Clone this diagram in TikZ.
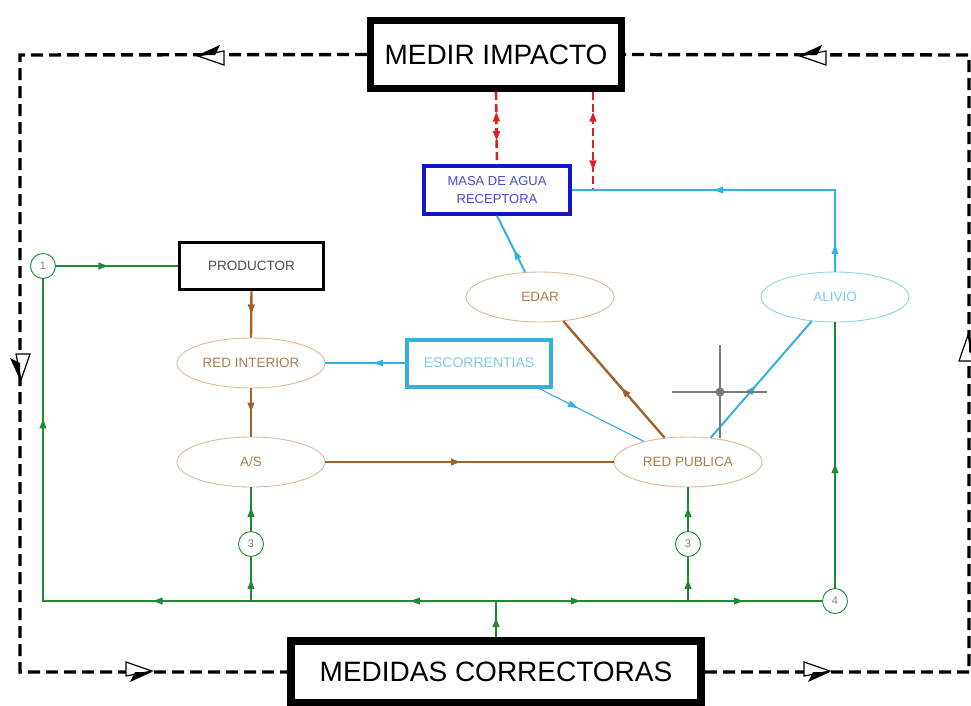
\documentclass[tikz,border=0pt]{standalone}
\usepackage{fontspec}
\setmainfont{Liberation Sans}
\usetikzlibrary{shapes.geometric,arrows.meta,decorations.markings}
\definecolor{grn}{HTML}{1E8A36}
\definecolor{brnline}{HTML}{A0622D}
\definecolor{brntext}{HTML}{B07A4E}
\definecolor{tanline}{HTML}{E0B896}
\definecolor{cyanline}{HTML}{33B2E2}
\definecolor{cyantext}{HTML}{7FCDEB}
\definecolor{cyanell}{HTML}{8FD3EA}
\definecolor{blubox}{HTML}{1515C8}
\definecolor{blutext}{HTML}{4848D0}
\definecolor{redline}{HTML}{E02020}
\definecolor{crossgray}{HTML}{7A7A7A}
\begin{document}
\begin{tikzpicture}[x=1pt,y=-1pt,
  bigbox/.style={draw, line width=7pt, inner sep=0pt, font=\fontsize{28}{30}\selectfont},
  smallbox/.style={draw, line width=3.5pt, inner sep=0pt, minimum width=144pt, minimum height=47pt, font=\fontsize{13.5}{16}\selectfont},
  elli/.style={ellipse, draw=tanline, line width=0.9pt, inner sep=0pt, minimum width=148pt, minimum height=50pt, text=brntext, font=\fontsize{13.5}{16}\selectfont},
  num/.style={circle, draw=grn, line width=0.9pt, fill=white, minimum size=25pt, inner sep=0pt, text=gray, font=\fontsize{11}{11}\selectfont},
  gl/.style={grn, line width=2.4pt},
  bl/.style={brnline, line width=2.4pt},
  cl/.style={cyanline, line width=2pt},
  cthin/.style={cyanline, line width=1.1pt},
  rl/.style={redline, line width=2.6pt, dash pattern=on 8pt off 4pt},
  dloop/.style={black, line width=3.4pt, dash pattern=on 12pt off 6pt},
  arrat/.style={postaction={decorate,decoration={markings,mark=at position #1 with {\arrow{Triangle[length=10pt,width=6.5pt]}}}}},
  arrrev/.style={postaction={decorate,decoration={markings,mark=at position #1 with {\arrowreversed{Triangle[length=10pt,width=6.5pt]}}}}},
  combo/.pic={
    \draw[line width=1.2pt, fill=white] (0,1) -- (26,-4) -- (26,10) -- cycle;
    \fill (0,0) -- (22,-10) -- (17,0) -- cycle;
  }
]
\useasboundingbox (0,0) rectangle (971,705);

% main boxes
\node[bigbox, minimum width=251pt, minimum height=68pt] (mi) at (496,54.5) {MEDIR IMPACTO};
\node[bigbox, line width=8pt, minimum width=410pt, minimum height=62pt] (mc) at (496,672) {MEDIDAS CORRECTORAS};

\node[smallbox, draw=blubox, text=blutext, align=center, font=\fontsize{13}{18}\selectfont, minimum width=146pt, minimum height=48pt] (masa) at (497,190) {MASA DE AGUA\\RECEPTORA};
\node[smallbox, text=black!70] (prod) at (251.5,266) {PRODUCTOR};
\node[smallbox, draw=cyanline, line width=4pt, text=cyantext, font=\fontsize{14}{16}\selectfont] (esc) at (479,363) {ESCORRENTIAS};

% ellipses
\node[elli] (ri) at (251,363) {RED INTERIOR};
\node[elli] (as) at (251,462) {A/S};
\node[elli] (edar) at (540,297) {EDAR};
\node[elli, draw=cyanell, text=cyantext] (al) at (835,297) {ALIVIO};
\node[elli] (rp) at (688,462) {RED PUBLICA};

% numbered circles
\node[num] (n1) at (43,266) {1};
\node[num] (n3a) at (251,544) {3};
\node[num] (n3b) at (688,544) {3};
\node[num] (n4) at (835,601) {4};

% coordinates
\coordinate (bl) at (43,601);
\coordinate (bm) at (496,601);
\coordinate (b3a) at (251,601);
\coordinate (b3b) at (688,601);
\coordinate (cr) at (835,190);
\coordinate (rj) at (593,190);
\coordinate (tl) at (20,55);
\coordinate (lb) at (20,672);
\coordinate (tr) at (969,55);
\coordinate (rb) at (969,672);

% outer dashed loop
\draw[dloop] (mi.west) -- (tl) -- (lb) -- (mc.west);
\draw[dloop] (mc.east) -- (rb) -- (tr) -- (mi.east);
\pic at (198,55) {combo};
\pic at (800,55) {combo};
\pic[rotate=90] at (20,380) {combo};
\pic[rotate=-90] at (969,335) {combo};
\pic[rotate=180] at (152,672) {combo};
\pic[rotate=180] at (830,672) {combo};

% red dashed links
\draw[rl, arrrev=0.27, arrat=0.68] (mi.south) -- (masa.north);
\draw[rl, arrrev=0.2, arrat=0.8] (mi.south -| rj) -- (rj);

% cyan links
\draw[cl, arrat=0.08, arrat=0.59] (al.north) -- (cr) -- (masa.east);
\draw[cl, arrat=0.4] (edar.121) -- (masa.south);
\draw[cl, arrat=0.45] (rp.47) -- (al.-134);
\draw[cthin, arrat=0.4] (esc.west) -- (ri.east);
\draw[cthin, arrat=0.37] (esc.-23.8) -- (rp.155);

% brown links
\draw[bl, arrat=0.5] (prod.south) -- (ri.north);
\draw[bl, arrat=0.5] (ri.south) -- (as.north);
\draw[bl, arrat=0.47] (as.east) -- (rp.west);
\draw[bl, arrat=0.43] (rp.134) -- (edar.-46);

% green links
\draw[gl, arrat=0.43] (n1.east) -- (prod.west);
\draw[gl, arrat=0.111, arrat=0.443, arrat=0.82] (bm) -- (bl) -- (n1.south);
\draw[gl, arrat=0.26, arrat=0.76] (bm) -- (n4.west);
\draw[gl, arrat=0.55] (mc.north) -- (bm);
\draw[gl, arrat=0.5] (b3a) -- (n3a.south);
\draw[gl, arrat=0.55] (n3a.north) -- (as.south);
\draw[gl, arrat=0.5] (b3b) -- (n3b.south);
\draw[gl, arrat=0.55] (n3b.north) -- (rp.south);
\draw[gl, arrat=0.47] (n4.north) -- (al.south);

% crosshair cursor
\draw[crossgray, line width=1.6pt] (720,345) -- (720,438);
\draw[crossgray, line width=1.6pt] (672,392) -- (767,392);
\fill[crossgray] (720,392) circle (4.5pt);
\end{tikzpicture}
\end{document}
